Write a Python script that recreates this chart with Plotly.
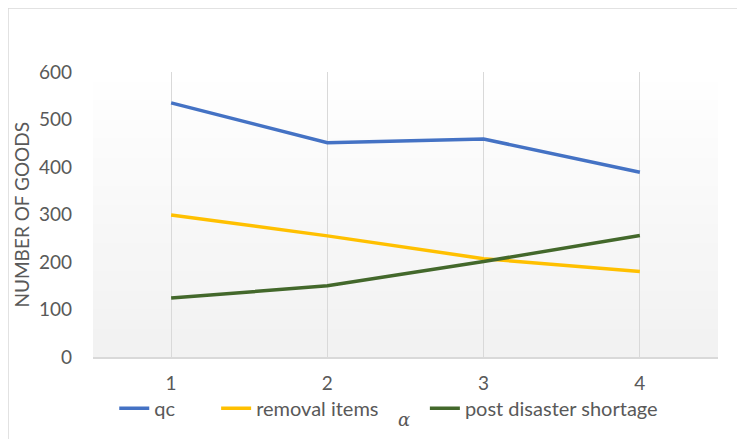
import plotly.graph_objects as go

alpha = ["1", "2", "3", "4"]
qc = [535, 451, 459, 389]
removal_items = [299, 255, 207, 180]
post_disaster_shortage = [124, 150, 201, 256]

FONT = "Lato"
GREY = "#595959"

fig = go.Figure()
fig.add_trace(go.Scatter(x=alpha, y=qc, mode="lines", name="qc",
                         line=dict(color="#4472C4", width=3.5), legend="legend"))
fig.add_trace(go.Scatter(x=alpha, y=removal_items, mode="lines", name="removal items",
                         line=dict(color="#FFC000", width=3.5), legend="legend2"))
fig.add_trace(go.Scatter(x=alpha, y=post_disaster_shortage, mode="lines",
                         name="post disaster shortage",
                         line=dict(color="#43682B", width=3.5), legend="legend3"))

# plot area gradient (white at top -> light grey at bottom)
shapes = []
n = 30
for i in range(n):
    t = i / (n - 1)
    g = int(242 + (255 - 242) * t)
    shapes.append(dict(type="rect", xref="paper", yref="paper", layer="below",
                       x0=0, x1=1, y0=i / n, y1=(i + 1) / n + 0.002,
                       line=dict(width=0), fillcolor=f"rgb({g},{g},{g})"))
# chart border (top and left visible)
shapes.append(dict(type="rect", xref="paper", yref="paper", layer="below",
                   x0=-0.136, x1=1.3, y0=-0.6, y1=1.2246,
                   line=dict(color="#d9d9d9", width=1.5), fillcolor="rgba(0,0,0,0)"))

leg = dict(orientation="h", y=-0.18, xanchor="left", yanchor="middle",
           font=dict(size=20, color=GREY), bgcolor="rgba(0,0,0,0)")

fig.update_layout(
    width=745, height=439,
    margin=dict(l=85, r=35, t=64, b=90, autoexpand=False),
    paper_bgcolor="white",
    plot_bgcolor="rgba(0,0,0,0)",
    font=dict(family=FONT, color=GREY, size=19),
    shapes=shapes,
    showlegend=True,
    legend=dict(leg, x=0.034),
    legend2=dict(leg, x=0.197),
    legend3=dict(leg, x=0.531),
    annotations=[
        dict(text="<i>α</i>", xref="paper", yref="paper",
             x=(404 - 93) / 625, y=-0.221, yanchor="middle", showarrow=False,
             font=dict(family="DejaVu Serif", size=18, color=GREY)),
        dict(text="NUMBER OF GOODS", xref="paper", yref="paper", textangle=-90,
             x=(21 - 93) / 625, y=0.5, xanchor="center", yanchor="middle",
             showarrow=False, font=dict(size=19, color=GREY)),
    ],
    xaxis=dict(type="category", range=[-0.5, 3.5], showgrid=True,
               gridcolor="#d9d9d9", gridwidth=1, showline=True, linecolor="#d9d9d9",
               linewidth=1.5, ticks="", zeroline=False, ticklabelstandoff=8,
               automargin=False, tickfont=dict(size=19, color=GREY)),
    yaxis=dict(range=[0, 600], tickvals=[0, 100, 200, 300, 400, 500, 600],
               showgrid=False, zeroline=False, showline=False, ticks="",
               automargin=False, ticklabelstandoff=20,
               tickfont=dict(size=19, color=GREY)),
)

fig.write_html("out.html")
